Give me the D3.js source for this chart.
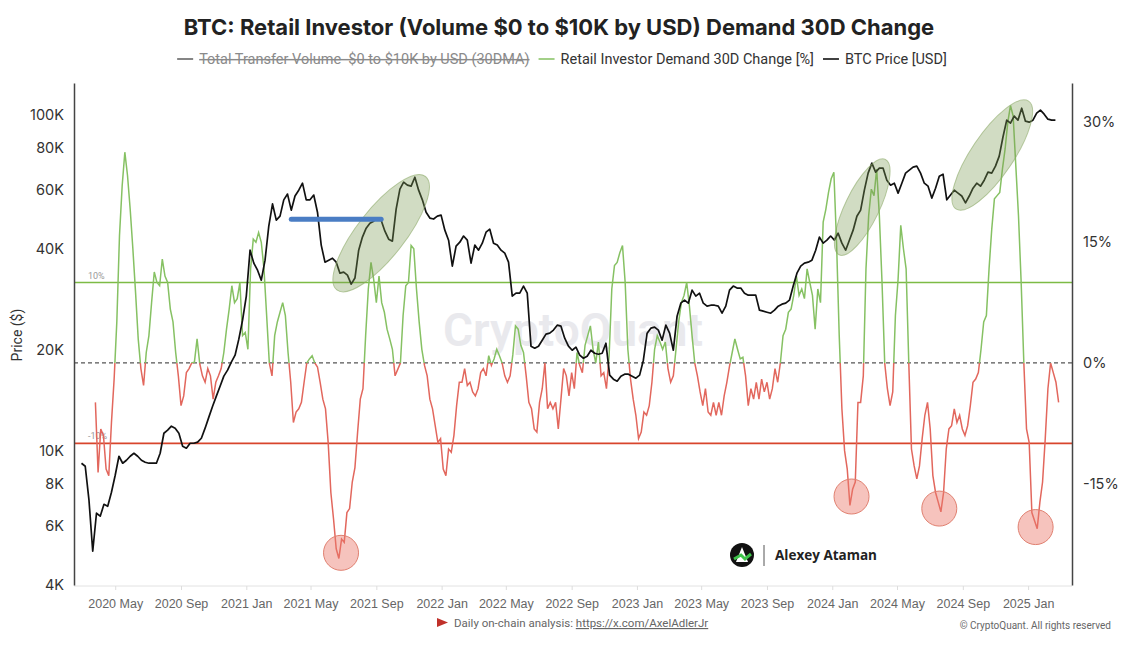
<!DOCTYPE html>
<html>
<head>
<meta charset="utf-8">
<script src="https://cdn.jsdelivr.net/npm/d3@7"></script>
<style>
  body { margin: 0; background: #fff; }
  svg { display: block; font-family: Roboto, "Noto Sans", sans-serif; }
</style>
</head>
<body>
<div id="chart"></div>
<script>
// BTC price, one reading a week
var priceStart = "2020-02-28";
var priceStepDays = 7;
var btcPrice = [
  9210, 9020, 7150, 5040, 6540, 6410, 6950, 6860, 7550, 8480,
  9660, 9210, 9400, 9660, 9860, 9660, 9400, 9270, 9210, 9210,
  9210, 9860, 11310, 11550, 11870, 11710, 11310, 10350, 10210, 10560,
  10560, 10640, 10930, 11710, 12630, 13610, 14580, 15610, 16720, 17420,
  18400, 19300, 21540, 24530, 28930, 39620, 36260, 34550, 32260, 37000,
  46700, 54390, 48660, 50010, 55930, 58180, 52110, 57410, 59760, 62690,
  55930, 55930, 57800, 51390, 41020, 36500, 37000, 37500, 36500, 33850,
  34080, 33390, 31390, 32740, 39620, 43340, 46060, 47660, 48330, 49370,
  48660, 45130, 42720, 42140, 52460, 60170, 63120, 61840, 61410, 65300,
  59760, 55930, 51390, 49370, 49040, 50010, 50360, 45440, 42430, 35510,
  40720, 41850, 43650, 42430, 36260, 41020, 39620, 41570, 44820, 45750,
  41570, 41020, 39620, 38820, 36500, 28930, 29510, 29510, 30990, 29510,
  20530, 20250, 20530, 21390, 22290, 22440, 22920, 23710, 23550, 21690,
  20530, 19970, 20390, 19300, 18900, 19160, 19970, 19560, 19430, 19560,
  20950, 16840, 16380, 16150, 16720, 16950, 16950, 16720, 16490, 16840,
  18650, 22440, 23230, 23390, 22920, 21390, 23710, 22440, 19970, 25210,
  27560, 28130, 27560, 30130, 28930, 29510, 27560, 27000, 27180, 27180,
  27000, 25730, 27000, 30130, 30990, 30560, 30560, 29510, 29120, 29120,
  29120, 26270, 26090, 25910, 25730, 26270, 27000, 27370, 27560, 28130,
  30990, 33850, 35510, 36260, 36500, 37000, 39620, 43340, 41570, 42430,
  43650, 42430, 44510, 41570, 39620, 42430, 45440, 50010, 52110, 59760,
  67150, 71910, 67610, 69480, 69480, 63990, 61840, 62690, 58580, 62690,
  67150, 68530, 69960, 70440, 67150, 62690, 61410, 56600, 60580, 65750,
  66670, 55930, 57800, 59760, 58580, 57410, 54770, 57410, 60580, 62690,
  61410, 63990, 67610, 67150, 70440, 75440, 86010, 96520, 94550, 99250,
  96520, 104770, 95860, 95210, 96520, 101280, 103410, 100590, 97180, 96520,
  96520
];

// Retail investor demand 30D change [%], one reading every 5 days
var demandStart = "2020-03-25";
var demandStepDays = 5;
var demandChange = [
  -4.9, -13.6, -8.2, -9.0, -13.2, -14.0, -7.4, -2.0, 5.1, 15.8,
  22.0, 26.2, 23.3, 19.1, 14.2, 8.8, 3.0, -0.7, -2.8, 1.3,
  3.4, 7.5, 11.3, 10.0, 9.6, 12.9, 10.8, 10.0, 6.7, 5.1,
  1.3, -1.6, -5.3, -4.1, -1.2, -0.7, 0, 0.1, 3.0, -0.1,
  -1.6, -2.4, -0.7, -1.6, -4.5, -2.4, -1.6, -0.7, 1.3, 4.2,
  6.7, 9.6, 7.5, 8.0, 10.0, 3.4, 3.8, 1.7, 11.7, 15.4,
  15.0, 16.2, 15.0, 11.7, 5.9, 0, -1.6, 3.4, 5.1, 6.3,
  7.5, 5.9, 1.3, -2.4, -7.4, -6.1, -5.7, -4.9, -2.4, 0,
  0.5, 0.9, 0, -0.5, -2.4, -4.5, -5.7, -9.9, -16.1, -19.4,
  -23.1, -24.3, -21.9, -22.3, -18.6, -18.1, -14.8, -13.0, -8.6, -4.5,
  -3.2, 3.4, 9.2, 12.5, 10.4, 7.5, 10.8, 7.5, 6.3, 4.2,
  3.0, 1.7, -1.6, -0.8, 0, 5.9, 9.6, 10.0, 14.6, 14.2,
  9.2, 5.1, 1.7, -0.3, -1.6, -4.5, -5.7, -7.8, -9.9, -9.4,
  -13.2, -14.0, -10.7, -11.1, -9.0, -5.3, -2.4, -2.4, -0.7, -2.8,
  -2.4, -3.6, -4.1, -3.2, -1.2, -0.7, -1.6, 0.9, -0.3, 0.5,
  1.7, 0.9, 0, -1.6, -2.4, -1.6, 1.0, 4.6, 4.2, 2.2,
  1.3, -1.6, -4.9, -5.7, -8.2, -8.6, -4.9, -3.2, 0, -5.7,
  -4.9, -5.7, -4.9, -8.2, -4.5, -0.7, -1.6, -4.1, -1.2, -3.2,
  1.3, -0.3, -1.2, 2.2, 3.4, 4.6, 1.7, 0, 2.6, -1.6,
  -1.2, -3.2, 0.9, 9.2, 12.1, 12.5, 13.7, 14.6, 10.0, 1.7,
  -2.0, -4.5, -6.5, -9.4, -8.6, -6.1, -6.5, -5.3, -2.4, 1.7,
  3.4, 2.6, 1.7, 2.6, -0.7, -2.4, -1.6, 1.7, 5.1, 7.5,
  8.4, 10.0, 7.1, 3.4, 0, -1.6, -3.6, -5.3, -3.2, -6.1,
  -6.5, -4.9, -6.5, -4.9, -6.5, -4.1, -2.4, -0.4, 1.3, 3.0,
  1.7, 0.5, 0.7, -1.6, -5.3, -3.2, -4.5, -2.4, -4.5, -2.0,
  -3.6, -2.4, -4.5, -3.2, -0.7, -2.4, 0, 3.4, 4.2, 6.3,
  6.7, 8.4, 10.8, 8.4, 9.2, 8.0, 11.7, 10.0, 8.4, 4.2,
  9.2, 7.5, 17.5, 19.1, 21.2, 22.9, 23.7, 15.0, 3.4, -5.7,
  -10.9, -13.2, -17.7, -15.7, -14.8, -4.9, -4.9, -1.6, 11.7, 18.3,
  21.6, 20.8, 24.1, 18.3, 10.0, 0, -3.2, -5.3, -3.6, 5.9,
  10.4, 17.1, 14.2, 11.7, 0, -10.7, -12.8, -14.4, -12.8, -9.4,
  -6.5, -4.9, -8.2, -14.0, -16.1, -17.3, -18.5, -16.1, -10.7, -8.2,
  -7.8, -5.7, -7.4, -6.5, -8.2, -9.0, -7.8, -5.3, -2.4, -2.0,
  -1.2, 1.7, 5.1, 5.9, 11.7, 16.6, 20.4, 20.8, 21.2, 24.1,
  26.6, 29.9, 32.0, 30.7, 24.5, 18.3, 10.0, 0, -8.2, -9.9,
  -18.6, -19.6, -20.6, -17.3, -14.8, -9.4, -3.2, 0, -1.2, -2.4,
  -4.9
];

var priceTicks = [4000, 6000, 8000, 10000, 20000, 40000, 60000, 80000, 100000];
var pctTicks = [30, 15, 0, -15];
var bands = [10, -10];

var legendItems = [
  { label: "Total Transfer Volume  $0 to $10K by USD (30DMA)", color: "#666", off: true },
  { label: "Retail Investor Demand 30D Change [%]", color: "#8cc56a", off: false },
  { label: "BTC Price [USD]", color: "#111", off: false }
];

// hand-drawn marks on the original picture
var blueBar = { from: "2021-03-26", to: "2021-09-10", price: 49000 };
var ellipses = [
  { date: "2021-09-10", price: 44500, rx: 72, ry: 24, angle: -52 },
  { date: "2024-02-26", price: 53200, rx: 53, ry: 17, angle: -64 },
  { date: "2024-10-26", price: 76000, rx: 65, ry: 21, angle: -56 }
];
var circles = [
  { date: "2021-06-27", pct: -23.6 },
  { date: "2024-02-06", pct: -16.6 },
  { date: "2024-07-19", pct: -18.1 },
  { date: "2025-01-15", pct: -20.4 }
];

(function () {
  var W = 1138, H = 646;
  var plotL = 74, plotR = 1072, plotT = 83, plotB = 585;
  var parse = d3.utcParse("%Y-%m-%d");

  var priceData = btcPrice.map(function (v, i) {
    return { date: d3.utcDay.offset(parse(priceStart), i * priceStepDays), value: v };
  });
  var demandData = demandChange.map(function (v, i) {
    return { date: d3.utcDay.offset(parse(demandStart), i * demandStepDays), value: v };
  });

  var svg = d3.select("#chart").append("svg")
    .attr("width", W).attr("height", H);

  var x = d3.scaleUtc()
    .domain([parse("2020-02-14"), parse("2025-03-24")])
    .range([plotL, plotR]);
  var yPrice = d3.scaleLog().domain([4000, 124500]).range([plotB, plotT]);
  var yPct = d3.scaleLinear().domain([-27.6, 34.8]).range([plotB, plotT]);

  // title and legend
  svg.append("text")
    .attr("x", 559).attr("y", 35)
    .attr("text-anchor", "middle")
    .style("font-family", "Inter, Roboto, sans-serif")
    .style("font-weight", "700").style("font-size", "22px").style("fill", "#222")
    .text("BTC: Retail Investor (Volume $0 to $10K by USD) Demand 30D Change");

  var legend = svg.append("g");
  var lx = 0;
  legendItems.forEach(function (d) {
    var g = legend.append("g").attr("transform", "translate(" + lx + ",0)");
    g.append("line").attr("x1", 0).attr("x2", 16).attr("y1", 0).attr("y2", 0)
      .style("stroke", d.color).style("stroke-width", 1.6);
    var t = g.append("text").attr("x", 22).attr("y", 5)
      .style("font-size", "14.5px")
      .style("white-space", "pre")
      .style("fill", d.off ? "#8a8a8a" : "#333")
      .style("text-decoration", d.off ? "line-through" : "none")
      .text(d.label);
    lx += 22 + t.node().getComputedTextLength() + 9;
  });
  legend.attr("transform", "translate(" + ((1124 - (lx - 9)) / 2) + ",59)");

  // watermark
  svg.append("text")
    .attr("x", 573).attr("y", 346)
    .attr("text-anchor", "middle")
    .style("font-size", "46px").style("font-weight", "600")
    .style("fill", "#e2e2e8").style("opacity", 0.75)
    .text("CryptoQuant");

  svg.append("line").attr("x1", plotL).attr("x2", plotR).attr("y1", plotB + 1).attr("y2", plotB + 1)
    .style("stroke", "#e2e2e2");

  // threshold lines
  svg.append("line")
    .attr("x1", plotL).attr("x2", plotR)
    .attr("y1", yPct(bands[0])).attr("y2", yPct(bands[0]))
    .style("stroke", "#7dbb45").style("stroke-width", 1.6);
  svg.append("line")
    .attr("x1", plotL).attr("x2", plotR)
    .attr("y1", yPct(bands[1])).attr("y2", yPct(bands[1]))
    .style("stroke", "#d8452c").style("stroke-width", 1.6);
  svg.append("line")
    .attr("x1", plotL).attr("x2", plotR)
    .attr("y1", yPct(0)).attr("y2", yPct(0))
    .style("stroke", "#555").style("stroke-width", 1.2).style("stroke-dasharray", "4,3");

  bands.forEach(function (b) {
    svg.append("text")
      .attr("x", 88).attr("y", yPct(b) - 4)
      .style("font-size", "9px").style("fill", "#999")
      .text(b + "%");
  });

  // demand line, green above zero, red below
  var defs = svg.append("defs");
  defs.append("clipPath").attr("id", "clipUp").append("rect")
    .attr("x", plotL).attr("y", plotT).attr("width", plotR - plotL).attr("height", yPct(0) - plotT);
  defs.append("clipPath").attr("id", "clipDown").append("rect")
    .attr("x", plotL).attr("y", yPct(0)).attr("width", plotR - plotL).attr("height", plotB - yPct(0));

  var demandLine = d3.line()
    .x(function (d) { return x(d.date); })
    .y(function (d) { return yPct(d.value); });

  svg.append("path").datum(demandData)
    .attr("clip-path", "url(#clipUp)")
    .attr("d", demandLine)
    .style("fill", "none").style("stroke", "#86c163").style("stroke-width", 1.5);
  svg.append("path").datum(demandData)
    .attr("clip-path", "url(#clipDown)")
    .attr("d", demandLine)
    .style("fill", "none").style("stroke", "#e2675d").style("stroke-width", 1.5);

  // price line
  var priceLine = d3.line()
    .x(function (d) { return x(d.date); })
    .y(function (d) { return yPrice(d.value); });

  svg.append("path").datum(priceData)
    .attr("d", priceLine)
    .style("fill", "none").style("stroke", "#111").style("stroke-width", 1.7)
    .style("stroke-linejoin", "round");

  // annotations
  svg.selectAll(".ell").data(ellipses).enter().append("ellipse")
    .attr("transform", function (d) {
      return "translate(" + x(parse(d.date)) + "," + yPrice(d.price) + ") rotate(" + d.angle + ")";
    })
    .attr("rx", function (d) { return d.rx; })
    .attr("ry", function (d) { return d.ry; })
    .style("fill", "#7a9a52").style("fill-opacity", 0.35)
    .style("stroke", "#8aa866").style("stroke-opacity", 0.6).style("stroke-width", 1);

  svg.selectAll(".circ").data(circles).enter().append("circle")
    .attr("cx", function (d) { return x(parse(d.date)); })
    .attr("cy", function (d) { return yPct(d.pct); })
    .attr("r", 17.5)
    .style("fill", "#ec7b6c").style("fill-opacity", 0.45)
    .style("stroke", "#e08070").style("stroke-width", 1);

  svg.append("line")
    .attr("x1", x(parse(blueBar.from))).attr("x2", x(parse(blueBar.to)))
    .attr("y1", yPrice(blueBar.price)).attr("y2", yPrice(blueBar.price))
    .style("stroke", "#4a7dc4").style("stroke-width", 5).style("stroke-linecap", "round");

  // axes
  var axL = svg.append("g").attr("transform", "translate(" + plotL + ",0)")
    .call(d3.axisLeft(yPrice).tickValues(priceTicks)
      .tickFormat(function (d) { return (d / 1000) + "K"; })
      .tickSize(0).tickPadding(10));
  axL.select(".domain").style("stroke", "#444").style("stroke-width", 1.5);
  axL.selectAll("text").style("font-size", "14.5px").style("fill", "#333")
    .style("font-family", "Inter, Roboto, sans-serif");

  var axR = svg.append("g").attr("transform", "translate(" + plotR + ",0)")
    .call(d3.axisRight(yPct).tickValues(pctTicks)
      .tickFormat(function (d) { return d + "%"; })
      .tickSize(0).tickPadding(11));
  axR.select(".domain").style("stroke", "#444").style("stroke-width", 1.5);
  axR.selectAll("text").style("font-size", "14.5px").style("fill", "#333")
    .style("font-family", "Inter, Roboto, sans-serif");

  var axB = svg.append("g").attr("transform", "translate(0," + (plotB + 1) + ")")
    .call(d3.axisBottom(x).ticks(d3.utcMonth.every(4))
      .tickFormat(d3.utcFormat("%Y %b")).tickSize(4).tickPadding(9));
  axB.select(".domain").remove();
  axB.selectAll("line").style("stroke", "#ddd");
  axB.selectAll("text").style("font-size", "12.5px").style("fill", "#666");

  svg.append("text")
    .attr("transform", "translate(22,335) rotate(-90)")
    .attr("text-anchor", "middle")
    .style("font-size", "14px").style("fill", "#333")
    .text("Price ($)");

  // author badge
  var badge = svg.append("g").attr("transform", "translate(742,555)");
  badge.append("circle").attr("r", 12).style("fill", "#111");
  badge.append("path").attr("d", "M-6,7 L0,-8 L6,7 Z").style("fill", "#fff");
  badge.append("path").attr("d", "M-8,4 L-1,0 L3,4 L9,-1").style("fill", "none")
    .style("stroke", "#3ec34a").style("stroke-width", 3);
  svg.append("line").attr("x1", 764).attr("x2", 764).attr("y1", 545).attr("y2", 566)
    .style("stroke", "#555").style("stroke-width", 1);
  svg.append("text").attr("x", 775).attr("y", 560)
    .style("font-family", "'Open Sans', sans-serif")
    .style("font-size", "13.5px").style("font-weight", "700").style("fill", "#222")
    .text("Alexey Ataman");

  // footer
  svg.append("path").attr("d", "M437,618 L448,622.5 L437,627 Z").style("fill", "#c0312a");
  var foot = svg.append("text").attr("x", 454).attr("y", 627)
    .style("font-size", "11.5px").style("fill", "#666");
  foot.append("tspan").text("Daily on-chain analysis: ");
  foot.append("tspan").style("text-decoration", "underline").text("https://x.com/AxelAdlerJr");
  svg.append("text").attr("x", 1111).attr("y", 629)
    .attr("text-anchor", "end")
    .style("font-size", "10px").style("fill", "#666")
    .text("\u00A9 CryptoQuant. All rights reserved");
})();
</script>
</body>
</html>
